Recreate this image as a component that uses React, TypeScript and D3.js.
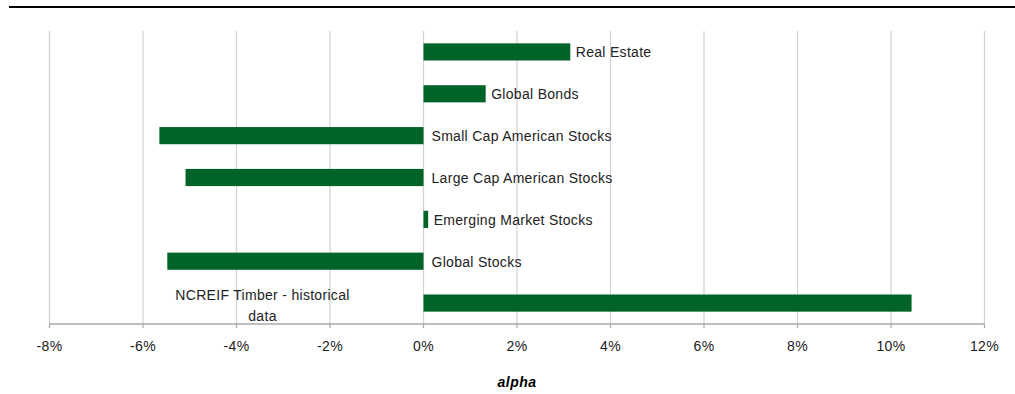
import React from "react";
import * as d3 from "d3";

const categories = [
  "Real Estate",
  "Global Bonds",
  "Small Cap American Stocks",
  "Large Cap American Stocks",
  "Emerging Market Stocks",
  "Global Stocks",
  "NCREIF Timber - historical data",
];
const alphaValues = [3.14, 1.33, -5.65, -5.09, 0.1, -5.48, 10.44];
const xTicks = [-8, -6, -4, -2, 0, 2, 4, 6, 8, 10, 12];
const axisTitle = "alpha";

const W = 1015;
const H = 394;
const FONT = "'Liberation Sans', Arial, sans-serif";

export default function App() {
  const x = d3.scaleLinear().domain([-8, 12]).range([49.5, 984.5]);
  const y = d3.scaleBand<string>().domain(categories).range([31, 324]).paddingInner(0.59).paddingOuter(0.295);
  const green = "#006428";
  const last = categories.length - 1;
  const txt = { fontFamily: FONT, fontSize: 14, letterSpacing: 0.3, fill: "#222" } as const;

  return (
    <svg width={W} height={H} style={{ position: "absolute", left: 0, top: 0, background: "#fff" }}>
      <line x1={9} x2={W} y1={7} y2={7} stroke="#000" strokeWidth={2.2} />
      {xTicks.map((t) => (
        <line key={"g" + t} x1={x(t)} x2={x(t)} y1={31} y2={324} stroke="#d2d2d2" strokeWidth={1.2} />
      ))}
      <line x1={x(-8)} x2={x(12)} y1={324} y2={324} stroke="#a8a8a8" strokeWidth={1.3} />
      {xTicks.map((t) => (
        <line key={"t" + t} x1={x(t)} x2={x(t)} y1={324} y2={328} stroke="#a8a8a8" strokeWidth={1.2} />
      ))}
      {xTicks.map((t) => (
        <text key={"l" + t} x={x(t)} y={351} textAnchor="middle" {...txt}>
          {t + "%"}
        </text>
      ))}
      <text x={517} y={387} textAnchor="middle" fontFamily={FONT} fontSize={14} letterSpacing={0.5} fontWeight="bold" fontStyle="italic" fill="#000">
        {axisTitle}
      </text>
      {categories.map((c, i) => {
        const v = alphaValues[i];
        const x0 = x(Math.min(0, v));
        const x1 = x(Math.max(0, v));
        const yb = y(c) as number;
        return (
          <rect key={"b" + c} x={x0} y={yb} width={x1 - x0} height={y.bandwidth()} fill={green} />
        );
      })}
      {categories.map((c, i) => {
        const v = alphaValues[i];
        const cy = (y(c) as number) + y.bandwidth() / 2;
        if (i === last) {
          const lines = ["NCREIF Timber - historical", "data"];
          return (
            <text key={"t" + c} x={262.5} y={300} textAnchor="middle" {...txt}>
              <tspan x={262.5} dy={0}>{lines[0]}</tspan>
              <tspan x={262.5} dy={20.5}>{lines[1]}</tspan>
            </text>
          );
        }
        const lx = v > 0 ? x(v) + 5.5 : x(0) + 8;
        return (
          <text key={"t" + c} x={lx} y={cy + 5.5} {...txt}>
            {c}
          </text>
        );
      })}
    </svg>
  );
}
